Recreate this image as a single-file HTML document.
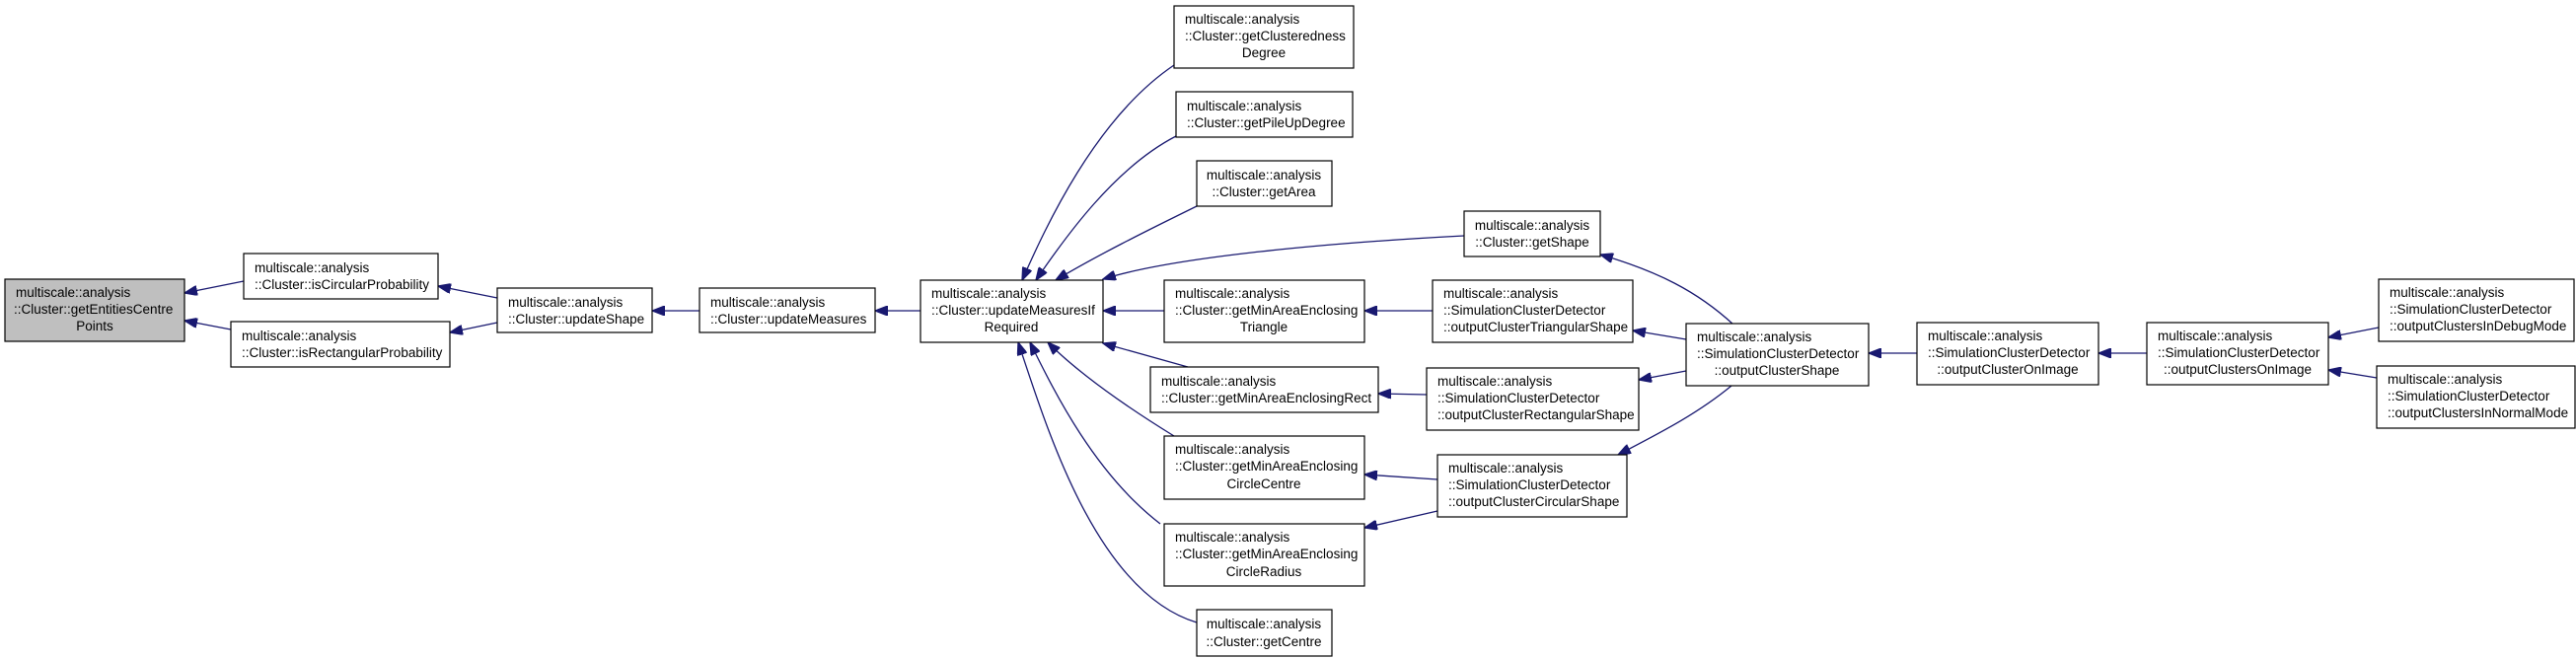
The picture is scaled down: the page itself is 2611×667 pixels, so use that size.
<!DOCTYPE html>
<html><head><meta charset="utf-8"><style>
html,body{margin:0;padding:0;background:#fff;}
svg{display:block;}
text{font-family:"Liberation Sans",sans-serif;font-size:13.5px;fill:#000;}
rect{stroke:#000;stroke-width:1.2;fill:#fff;}
path{fill:none;stroke:#191970;stroke-width:1.3;}
</style></head><body>
<svg width="2611" height="667" viewBox="0 0 2611 667" xmlns="http://www.w3.org/2000/svg">
<defs><marker id="a" markerWidth="14" markerHeight="10" refX="13" refY="5" orient="auto" markerUnits="userSpaceOnUse"><path d="M0,0 L13,5 L0,10 Z" style="fill:#191970;stroke:#191970"/></marker></defs>
<g marker-end="url(#a)">
<path d="M247,285 L187,297"/>
<path d="M234,334 L187,325"/>
<path d="M504,302 L444,290"/>
<path d="M504,327 L456,337"/>
<path d="M709,315 L661,315"/>
<path d="M933,315 L887,315"/>
<path d="M1190,66 C1110,120 1060,230 1036,284"/>
<path d="M1192,138 C1130,170 1080,240 1050,284"/>
<path d="M1213,209 C1160,235 1110,260 1070,284"/>
<path d="M1484,239 C1350,246 1190,260 1118,283"/>
<path d="M1180,315 L1118,315"/>
<path d="M1204,372 L1118,348"/>
<path d="M1190,442 C1130,405 1090,375 1062,347"/>
<path d="M1176,531 C1110,480 1070,400 1044,347"/>
<path d="M1213,631 C1110,600 1060,430 1032,347"/>
<path d="M1452,315 L1383,315"/>
<path d="M1446,400 L1397,399"/>
<path d="M1457,486 L1383,481"/>
<path d="M1457,518 L1383,535"/>
<path d="M1757,329 C1720,295 1680,275 1622,258"/>
<path d="M1709,344 L1655,335"/>
<path d="M1709,376 L1661,385"/>
<path d="M1755,391 C1720,420 1680,440 1640,461"/>
<path d="M1943,358 L1894,358"/>
<path d="M2176,358 L2127,358"/>
<path d="M2411,332 L2360,342"/>
<path d="M2409,383 L2360,375"/>
</g>
<g>
<rect x="5" y="283" width="182" height="63" style="fill:#bfbfbf"/>
<text x="16" y="301">multiscale::analysis</text><text x="14" y="318">::Cluster::getEntitiesCentre</text><text x="96" y="335" text-anchor="middle">Points</text>

<rect x="247" y="257" width="197" height="46"/>
<text x="258" y="276">multiscale::analysis</text><text x="258" y="293">::Cluster::isCircularProbability</text>
<rect x="234" y="326" width="222" height="46"/>
<text x="245" y="345">multiscale::analysis</text><text x="245" y="362">::Cluster::isRectangularProbability</text>
<rect x="504" y="292" width="157" height="45"/>
<text x="515" y="311">multiscale::analysis</text><text x="515" y="328">::Cluster::updateShape</text>
<rect x="709" y="292" width="178" height="45"/>
<text x="720" y="311">multiscale::analysis</text><text x="720" y="328">::Cluster::updateMeasures</text>
<rect x="933" y="284" width="185" height="63"/>
<text x="944" y="302">multiscale::analysis</text><text x="944" y="319">::Cluster::updateMeasuresIf</text><text x="1025" y="336" text-anchor="middle">Required</text>

<rect x="1190" y="6" width="182" height="63"/>
<text x="1201" y="24">multiscale::analysis</text><text x="1201" y="41">::Cluster::getClusteredness</text><text x="1281" y="58" text-anchor="middle">Degree</text>
<rect x="1192" y="93" width="179" height="46"/>
<text x="1203" y="112">multiscale::analysis</text><text x="1203" y="129">::Cluster::getPileUpDegree</text>
<rect x="1213" y="163" width="137" height="46"/>
<text x="1281" y="182" text-anchor="middle">multiscale::analysis</text><text x="1281" y="199" text-anchor="middle">::Cluster::getArea</text>
<rect x="1484" y="214" width="138" height="46"/>
<text x="1553" y="233" text-anchor="middle">multiscale::analysis</text><text x="1553" y="250" text-anchor="middle">::Cluster::getShape</text>
<rect x="1180" y="284" width="203" height="63"/>
<text x="1191" y="302">multiscale::analysis</text><text x="1191" y="319">::Cluster::getMinAreaEnclosing</text><text x="1281" y="336" text-anchor="middle">Triangle</text>
<rect x="1452" y="284" width="203" height="63"/>
<text x="1463" y="302">multiscale::analysis</text><text x="1463" y="319">::SimulationClusterDetector</text><text x="1463" y="336">::outputClusterTriangularShape</text>
<rect x="1166" y="372" width="231" height="46"/>
<text x="1177" y="391">multiscale::analysis</text><text x="1177" y="408">::Cluster::getMinAreaEnclosingRect</text>
<rect x="1446" y="373" width="215" height="63"/>
<text x="1457" y="391">multiscale::analysis</text><text x="1457" y="408">::SimulationClusterDetector</text><text x="1457" y="425">::outputClusterRectangularShape</text>
<rect x="1180" y="442" width="203" height="64"/>
<text x="1191" y="460">multiscale::analysis</text><text x="1191" y="477">::Cluster::getMinAreaEnclosing</text><text x="1281" y="495" text-anchor="middle">CircleCentre</text>
<rect x="1457" y="461" width="192" height="63"/>
<text x="1468" y="479">multiscale::analysis</text><text x="1468" y="496">::SimulationClusterDetector</text><text x="1468" y="513">::outputClusterCircularShape</text>
<rect x="1180" y="531" width="203" height="63"/>
<text x="1191" y="549">multiscale::analysis</text><text x="1191" y="566">::Cluster::getMinAreaEnclosing</text><text x="1281" y="584" text-anchor="middle">CircleRadius</text>
<rect x="1213" y="618" width="137" height="47"/>
<text x="1281" y="637" text-anchor="middle">multiscale::analysis</text><text x="1281" y="655" text-anchor="middle">::Cluster::getCentre</text>

<rect x="1709" y="328" width="185" height="63"/>
<text x="1720" y="346">multiscale::analysis</text><text x="1720" y="363">::SimulationClusterDetector</text><text x="1801" y="380" text-anchor="middle">::outputClusterShape</text>
<rect x="1943" y="327" width="184" height="63"/>
<text x="1954" y="345">multiscale::analysis</text><text x="1954" y="362">::SimulationClusterDetector</text><text x="2035" y="379" text-anchor="middle">::outputClusterOnImage</text>
<rect x="2176" y="327" width="184" height="63"/>
<text x="2187" y="345">multiscale::analysis</text><text x="2187" y="362">::SimulationClusterDetector</text><text x="2268" y="379" text-anchor="middle">::outputClustersOnImage</text>
<rect x="2411" y="283" width="198" height="63"/>
<text x="2422" y="301">multiscale::analysis</text><text x="2422" y="318">::SimulationClusterDetector</text><text x="2422" y="335">::outputClustersInDebugMode</text>
<rect x="2409" y="371" width="201" height="63"/>
<text x="2420" y="389">multiscale::analysis</text><text x="2420" y="406">::SimulationClusterDetector</text><text x="2420" y="423">::outputClustersInNormalMode</text>
</g>
</svg>
</body></html>
